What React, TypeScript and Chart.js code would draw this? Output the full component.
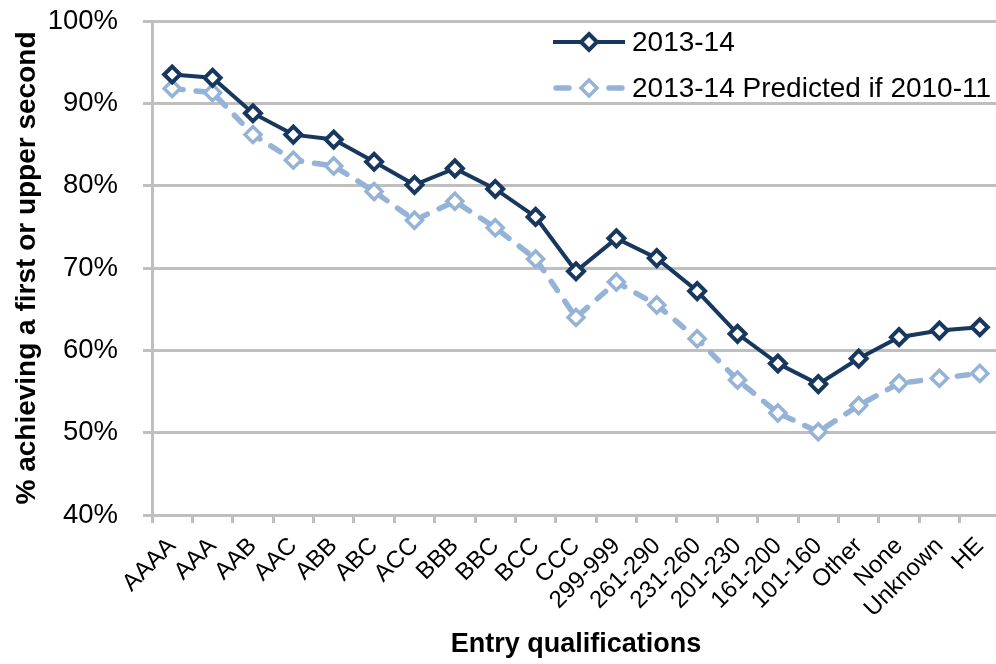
import React, { useEffect, useRef } from "react";
import { Chart, registerables } from "chart.js";

Chart.register(...registerables);

const categories = [
  "AAAA", "AAA", "AAB", "AAC", "ABB", "ABC", "ACC", "BBB", "BBC", "BCC", "CCC",
  "299-999", "261-290", "231-260", "201-230", "161-200", "101-160", "Other", "None", "Unknown", "HE",
];

const actual201314 = [
  93.5, 93.1, 88.8, 86.2, 85.6, 82.9, 80.1, 82.1, 79.6, 76.2, 69.6,
  73.6, 71.2, 67.2, 62.0, 58.4, 55.9, 59.0, 61.6, 62.4, 62.8,
];

const predicted201011 = [
  91.8, 91.3, 86.2, 83.1, 82.4, 79.3, 75.8, 78.1, 74.9, 71.1, 64.0,
  68.3, 65.5, 61.4, 56.4, 52.4, 50.1, 53.3, 56.0, 56.6, 57.2,
];

const seriesNames = ["2013-14", "2013-14 Predicted if 2010-11"];
const yMin = 40;
const yMax = 100;
const yStep = 10;
const yTitle = "% achieving a first or upper second";
const xTitle = "Entry qualifications";

const DARK = "#17375E";
const LIGHT = "#95B3D7";
const GRID = "#BFBFBF";
const FONT = "'Liberation Sans', Arial, sans-serif";

function diamond(ctx: CanvasRenderingContext2D, x: number, y: number, r: number) {
  ctx.beginPath();
  ctx.moveTo(x, y - r);
  ctx.lineTo(x + r, y);
  ctx.lineTo(x, y + r);
  ctx.lineTo(x - r, y);
  ctx.closePath();
}

const legendPlugin = {
  id: "customLegend",
  afterDraw(chart: any) {
    const ctx: CanvasRenderingContext2D = chart.ctx;
    const rows = [42, 88];
    chart.data.datasets.forEach((ds: any, i: number) => {
      const y = rows[i];
      const x0 = 556, x1 = 622, xm = 589;
      ctx.save();
      ctx.strokeStyle = ds.borderColor;
      ctx.lineWidth = ds.borderWidth;
      if (ds.borderDash && ds.borderDash.length) {
        ctx.lineCap = "round";
        ctx.beginPath();
        ctx.moveTo(x0, y);
        ctx.lineTo(x0 + 13, y);
        ctx.moveTo(x1 - 13, y);
        ctx.lineTo(x1, y);
        ctx.stroke();
      } else {
        ctx.lineCap = "butt";
        ctx.beginPath();
        ctx.moveTo(x0 - 3, y);
        ctx.lineTo(x1 + 3, y);
        ctx.stroke();
      }
      diamond(ctx, xm, y, ds.pointRadius);
      ctx.fillStyle = "#FFFFFF";
      ctx.fill();
      ctx.lineWidth = ds.pointBorderWidth;
      ctx.strokeStyle = ds.pointBorderColor;
      ctx.lineJoin = "miter";
      ctx.stroke();
      ctx.fillStyle = "#000000";
      ctx.font = `28px ${FONT}`;
      ctx.textBaseline = "middle";
      ctx.textAlign = "left";
      ctx.fillText(ds.label, 632, y + 1);
      ctx.restore();
    });
  },
};

export default function App() {
  const ref = useRef<HTMLCanvasElement | null>(null);

  useEffect(() => {
    if (!ref.current) return;
    const chart = new Chart(ref.current, {
      type: "line",
      data: {
        labels: categories,
        datasets: [
          {
            label: seriesNames[0],
            data: actual201314,
            borderColor: DARK,
            borderWidth: 4,
            pointStyle: "rectRot",
            pointRadius: 8,
            pointBorderWidth: 4,
            pointBorderColor: DARK,
            pointBackgroundColor: "#FFFFFF",
            tension: 0,
          },
          {
            label: seriesNames[1],
            data: predicted201011,
            borderColor: LIGHT,
            borderWidth: 5.5,
            borderDash: [11, 13],
            borderCapStyle: "round",
            pointStyle: "rectRot",
            pointRadius: 8,
            pointBorderWidth: 3.5,
            pointBorderColor: LIGHT,
            pointBackgroundColor: "#FFFFFF",
            tension: 0,
          },
        ],
      } as any,
      options: {
        responsive: false,
        animation: false,
        devicePixelRatio: 1,
        layout: { padding: { top: 21, right: 5, bottom: 0, left: 0 } },
        plugins: {
          legend: { display: false },
          tooltip: { enabled: false },
        },
        scales: {
          x: {
            offset: true,
            grid: {
              display: true,
              drawOnChartArea: false,
              drawTicks: true,
              tickLength: 8,
              color: GRID,
              lineWidth: 3,
              offset: true,
            },
            border: { color: GRID, width: 3 },
            ticks: {
              autoSkip: false,
              minRotation: 45,
              maxRotation: 45,
              padding: 9,
              color: "#000000",
              font: { family: FONT, size: 24 },
            },
            title: {
              display: true,
              text: xTitle,
              color: "#000000",
              font: { family: FONT, size: 27, weight: "bold" },
              padding: { top: 0, bottom: 3 },
            },
            afterFit(scale: any) {
              scale.height = 149;
            },
          },
          y: {
            min: yMin,
            max: yMax,
            grid: {
              color: GRID,
              lineWidth: 3,
              drawTicks: true,
              tickLength: 9,
            },
            border: { color: GRID, width: 3 },
            ticks: {
              stepSize: yStep,
              padding: 25,
              color: "#000000",
              font: { family: FONT, size: 27.5 },
              callback: (v: any) => `${v}%`,
            },
            title: {
              display: true,
              text: yTitle,
              color: "#000000",
              font: { family: FONT, size: 28, weight: "bold" },
              padding: { top: 10, bottom: 0 },
            },
            afterFit(scale: any) {
              scale.width = 152;
              scale.paddingTop = 16;
              scale.paddingBottom = 16;
            },
          },
        },
      } as any,
      plugins: [legendPlugin],
    });
    return () => chart.destroy();
  }, []);

  return (
    <div
      style={{
        position: "fixed",
        left: 0,
        top: 0,
        width: 996,
        height: 664,
        overflow: "hidden",
        background: "#FFFFFF",
      }}
    >
      <canvas ref={ref} width={1012} height={664} style={{ width: 1012, height: 664, display: "block" }} />
    </div>
  );
}
